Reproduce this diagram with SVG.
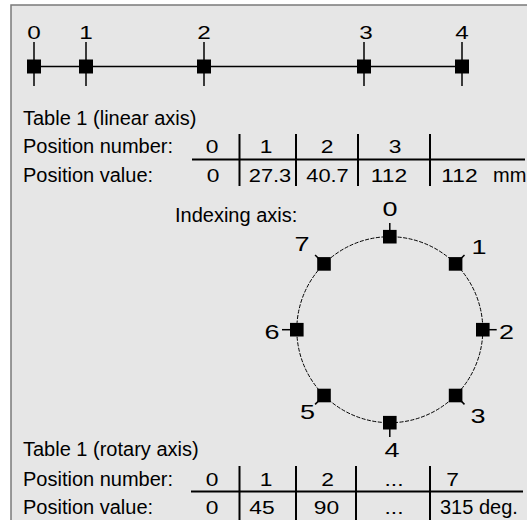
<svg xmlns="http://www.w3.org/2000/svg" width="527" height="520" viewBox="0 0 527 520">
<style>
text{font-family:"Liberation Sans",Arial,sans-serif;fill:#000}
.t{font-size:20px}
.n{font-size:19px;text-anchor:middle}
.lab{font-size:18px;text-anchor:middle}
.clab{font-size:20px;text-anchor:middle}
.ln{stroke:#000;stroke-width:1.5;fill:none}
.tl{stroke:#000;stroke-width:2;fill:none}
.sq{fill:#000}
</style>
<rect x="0" y="0" width="527" height="520" fill="#fff"/>
<rect x="11" y="5" width="530" height="530" fill="#e6e6e6" stroke="#7a7a7a" stroke-width="1.5"/>

<g id="connectors">
  <line class="ln" x1="34" y1="66.5" x2="462" y2="66.5"/>
  <circle cx="389.8" cy="329.7" r="93" fill="none" stroke="#000" stroke-width="1" stroke-dasharray="4 1.5"/>
</g>

<g id="linear-axis">
  <g id="lpos0"><line class="ln" x1="34" y1="42" x2="34" y2="86"/><rect class="sq" x="27" y="59.5" width="14" height="14"/><text class="lab" transform="translate(34 38.5) scale(1.35 1)">0</text></g>
  <g id="lpos1"><line class="ln" x1="86" y1="42" x2="86" y2="86"/><rect class="sq" x="79" y="59.5" width="14" height="14"/><text class="lab" transform="translate(86 38.5) scale(1.35 1)">1</text></g>
  <g id="lpos2"><line class="ln" x1="204" y1="42" x2="204" y2="86"/><rect class="sq" x="197" y="59.5" width="14" height="14"/><text class="lab" transform="translate(204 38.5) scale(1.35 1)">2</text></g>
  <g id="lpos3"><line class="ln" x1="364" y1="42" x2="364" y2="86"/><rect class="sq" x="357" y="59.5" width="14" height="14"/><text class="lab" transform="translate(366 38.5) scale(1.35 1)">3</text></g>
  <g id="lpos4"><line class="ln" x1="462" y1="42" x2="462" y2="86"/><rect class="sq" x="455" y="59.5" width="14" height="14"/><text class="lab" transform="translate(462 38.5) scale(1.35 1)">4</text></g>
</g>

<g id="linear-table">
  <text class="t" x="23" y="125">Table 1 (linear axis)</text>
  <text class="t" x="23" y="153">Position number:</text>
  <text class="t" x="23" y="182">Position value:</text>
  <line class="tl" x1="192" y1="159.5" x2="525" y2="159.5"/>
  <line class="tl" x1="239.5" y1="134" x2="239.5" y2="186"/>
  <line class="tl" x1="296" y1="134" x2="296" y2="186"/>
  <line class="tl" x1="358" y1="134" x2="358" y2="186"/>
  <line class="tl" x1="430" y1="134" x2="430" y2="186"/>
  <text class="n" transform="translate(212 153) scale(1.2 1)">0</text>
  <text class="n" transform="translate(266 153) scale(1.2 1)">1</text>
  <text class="n" transform="translate(327 153) scale(1.2 1)">2</text>
  <text class="n" transform="translate(395 153) scale(1.2 1)">3</text>
  <text class="n" transform="translate(213 182) scale(1.2 1)">0</text>
  <text class="n" transform="translate(270 182) scale(1.15 1)">27.3</text>
  <text class="n" transform="translate(327.5 182) scale(1.15 1)">40.7</text>
  <text class="n" transform="translate(389 182) scale(1.2 1)">112</text>
  <text class="n" transform="translate(459.5 182) scale(1.2 1)">112</text>
  <text class="t" x="493" y="182">mm</text>
</g>

<g id="indexing-axis">
  <text class="t" x="175" y="222">Indexing axis:</text>
  <g id="rpos0"><line class="ln" x1="389.8" y1="236.7" x2="389.8" y2="223"/><rect class="sq" x="383" y="229.9" width="13.6" height="13.6"/><text class="clab" transform="translate(390 216) scale(1.35 1)">0</text></g>
  <g id="rpos1"><line class="ln" x1="455.6" y1="263.9" x2="464.5" y2="255"/><rect class="sq" x="448.8" y="257.1" width="13.6" height="13.6"/><text class="clab" transform="translate(479 254) scale(1.35 1)">1</text></g>
  <g id="rpos2"><line class="ln" x1="482.8" y1="329.7" x2="496.7" y2="329.7"/><rect class="sq" x="476" y="322.9" width="13.6" height="13.6"/><text class="clab" transform="translate(506.5 339) scale(1.35 1)">2</text></g>
  <g id="rpos3"><line class="ln" x1="455.6" y1="395.5" x2="464.5" y2="404.4"/><rect class="sq" x="448.8" y="388.7" width="13.6" height="13.6"/><text class="clab" transform="translate(478 422.5) scale(1.35 1)">3</text></g>
  <g id="rpos4"><line class="ln" x1="389.8" y1="422.7" x2="389.8" y2="437"/><rect class="sq" x="383" y="415.9" width="13.6" height="13.6"/><text class="clab" transform="translate(392 456.5) scale(1.35 1)">4</text></g>
  <g id="rpos5"><line class="ln" x1="324" y1="395.5" x2="315.1" y2="404.4"/><rect class="sq" x="317.2" y="388.7" width="13.6" height="13.6"/><text class="clab" transform="translate(307.5 419) scale(1.35 1)">5</text></g>
  <g id="rpos6"><line class="ln" x1="296.8" y1="329.7" x2="282" y2="329.7"/><rect class="sq" x="290" y="322.9" width="13.6" height="13.6"/><text class="clab" transform="translate(272 339) scale(1.35 1)">6</text></g>
  <g id="rpos7"><line class="ln" x1="324" y1="263.9" x2="315.1" y2="255"/><rect class="sq" x="317.2" y="257.1" width="13.6" height="13.6"/><text class="clab" transform="translate(302 251) scale(1.35 1)">7</text></g>
</g>

<g id="rotary-table">
  <text class="t" x="23" y="456">Table 1 (rotary axis)</text>
  <text class="t" x="23" y="486">Position number:</text>
  <text class="t" x="23" y="514">Position value:</text>
  <line class="tl" x1="191" y1="491.5" x2="523" y2="491.5"/>
  <line class="tl" x1="239.5" y1="466" x2="239.5" y2="520"/>
  <line class="tl" x1="296" y1="466" x2="296" y2="520"/>
  <line class="tl" x1="356" y1="466" x2="356" y2="520"/>
  <line class="tl" x1="430" y1="466" x2="430" y2="520"/>
  <text class="n" transform="translate(212 486) scale(1.2 1)">0</text>
  <text class="n" transform="translate(266 486) scale(1.2 1)">1</text>
  <text class="n" transform="translate(327.5 486) scale(1.2 1)">2</text>
  <text class="n" transform="translate(394 486) scale(1.2 1)">...</text>
  <text class="n" transform="translate(452.5 486) scale(1.2 1)">7</text>
  <text class="n" transform="translate(212 514) scale(1.2 1)">0</text>
  <text class="n" transform="translate(262 514) scale(1.2 1)">45</text>
  <text class="n" transform="translate(326.5 514) scale(1.2 1)">90</text>
  <text class="n" transform="translate(394 514) scale(1.2 1)">...</text>
  <text class="t" x="440" y="514">315 deg.</text>
</g>
</svg>
